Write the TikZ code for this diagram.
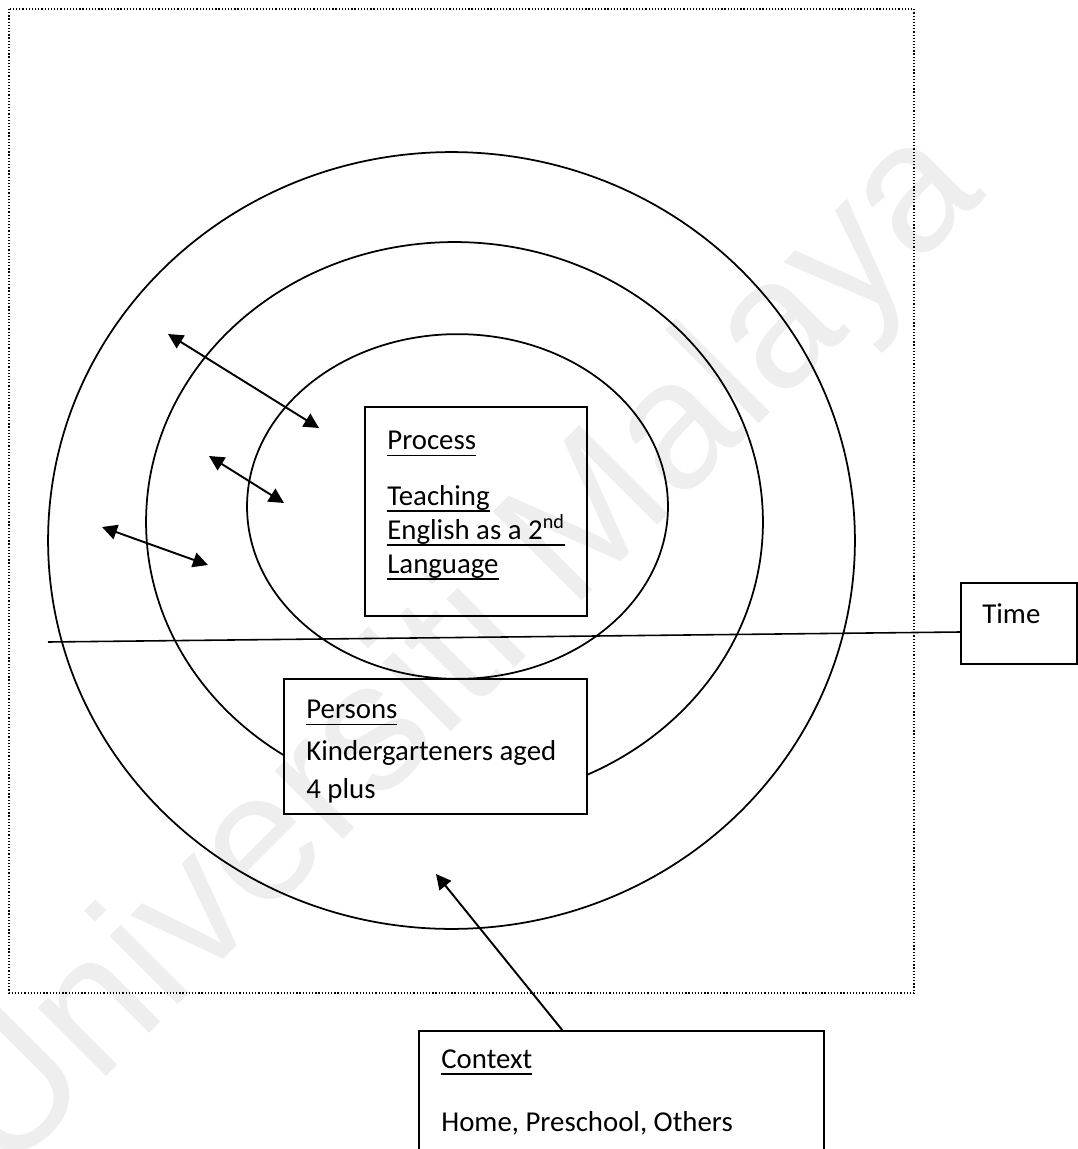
\documentclass[tikz,border=0pt]{standalone}
\usepackage{fontspec}
\setmainfont{Carlito}
\newfontfamily\markfont{Liberation Sans}
\usepackage{tikz}
\usetikzlibrary{fit}
\usetikzlibrary{arrows.meta}
\usepackage{xcolor}
\definecolor{MarkGray}{RGB}{238,238,238}
\newsavebox{\ULbox}
\newcommand{\ULine}[1]{\sbox{\ULbox}{#1}\rlap{\rule[-3.85pt]{\wd\ULbox}{.95pt}}\usebox{\ULbox}}
\tikzstyle{FrameLine}=[line width=.7pt,dash pattern=on .7pt off 1.1pt]
\tikzstyle{RingLine}=[line width=1pt]
\tikzstyle{TimeLine}=[line width=.9pt]
\tikzstyle{BoxFrame}=[draw,fill=white,rectangle,inner sep=0pt,line width=.95pt]
\tikzstyle{BoxText}=[anchor=base west,inner sep=0pt,align=left,
font=\fontsize{16.4}{19.3}\selectfont]
\tikzstyle{LinkArrow}=[{Triangle[length=.3cm,width=.3cm]}-{Triangle[length=.3cm,width=.3cm]},
line width=1.1pt]
\tikzstyle{PointArrow}=[-{Triangle[length=.3cm,width=.3cm]},line width=1.1pt]
\tikzstyle{MarkText}=[anchor=base west,inner sep=0pt,rotate=45,text=MarkGray,
font=\markfont\fontsize{104}{104}\selectfont]

\begin{document}
\begin{tikzpicture}[x=.02cm,y=-.02cm]
        \useasboundingbox (0,0) rectangle (1078,1149);
        \clip (0,0) rectangle (1078,1149);
        \draw[FrameLine] (9,9) rectangle (914,993);
        % the three rings
        \draw[RingLine] (451.5,540.5) ellipse [x radius=8.07cm,y radius=7.77cm];
        \draw[RingLine] (454.5,522) ellipse [x radius=6.17cm,y radius=5.6cm];
        \draw[RingLine] (457.5,506.5) ellipse [x radius=4.21cm,y radius=3.448cm];
        % boxes
        \coordinate (procA) at (365,407);
        \coordinate (procB) at (587,616);
        \coordinate (persA) at (284,679);
        \coordinate (persB) at (587,814);
        \coordinate (timeA) at (961,583);
        \coordinate (timeB) at (1077,664);
        \coordinate (ctxA) at (419,1031);
        \coordinate (ctxB) at (824,1175);
        \node[BoxFrame,fit=(procA)(procB)](proc){};
        \node[BoxFrame,fit=(persA)(persB)](pers){};
        \node[BoxFrame,fit=(timeA)(timeB)](time){};
        \node[BoxFrame,fit=(ctxA)(ctxB)](ctx){};
        % text sits on the baseline of its last line
        \node[BoxText](proctxt)at(387,573){\ULine{Process}\\[12.4pt]\ULine{Teaching}\\
            \ULine{English as a 2\textsuperscript{nd}}\\\ULine{Language}};
        \node[BoxText,font=\fontsize{16.4}{21.5}\selectfont](perstxt)at(306,798){\ULine{Persons}\\[2.3pt]
            Kindergarteners aged\\4 plus};
        \node[BoxText](timetxt)at(982,623){Time};
        \node[BoxText](ctxtxt)at(441,1131){\ULine{Context}\\[16.4pt]Home, Preschool, Others};
        % time axis
        \coordinate (tleft) at (48,642);
        \draw[TimeLine](tleft)--([yshift=-.17cm]time.west);
        % arrows
        \coordinate (a1s) at (168,334);
        \coordinate (a1e) at (319,428);
        \coordinate (a2s) at (209,456);
        \coordinate (a2e) at (284,503);
        \coordinate (a3s) at (102,527);
        \coordinate (a3e) at (208,565);
        \draw[LinkArrow](a1s)--(a1e);
        \draw[LinkArrow](a2s)--(a2e);
        \draw[LinkArrow](a3s)--(a3e);
        \coordinate (ctxfoot) at (563,1031);
        \coordinate (ctxtip) at (436,874);
        \draw[PointArrow](ctxfoot)--(ctxtip);
        \begin{scope}[blend mode=multiply]
            \node[MarkText](mark)at(4,1179){Universiti Malaya};
        \end{scope}
    \end{tikzpicture}
\end{document}
